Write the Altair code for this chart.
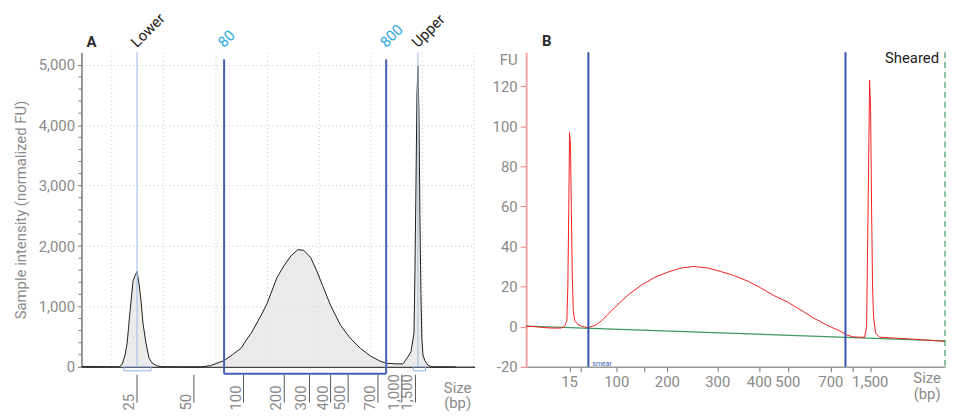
import altair as alt
import pandas as pd

# ---------------- Panel A (electropherogram, x = mobility units) ----------------
a_mob = [0, 20, 38, 41, 44, 46, 49, 52, 54, 56, 58, 60, 62, 65, 68, 71, 76, 81, 100, 121,
         130, 143.7, 152, 161, 166, 171, 181, 187, 197, 204, 211, 218, 224, 231, 237, 243,
         251, 261, 271, 281, 291, 301, 307, 316, 324, 329, 332, 335, 336, 337, 338, 339,
         340, 341, 342, 343, 344, 346, 349, 353, 377]
a_int = [5, 3, 0, 40, 200, 390, 930, 1426, 1508, 1580, 1377, 1098, 720, 393, 148, 66, 16, 2, 0, 0,
         20, 103, 200, 310, 443, 557, 852, 1049, 1480, 1672, 1836, 1940, 1930, 1808, 1590, 1344,
         1016, 689, 470, 306, 180, 93, 60, 50, 50, 170, 250, 557, 1600, 3000, 4500, 4980,
         4200, 2500, 1200, 450, 200, 100, 30, 0, 0]

a_size_labels = ["25", "50", "100", "200", "300", "400", "500", "700", "1,000", "1,500"]
a_size_pos = [56, 113.3, 163.3, 204.3, 229.7, 251, 268.7, 298.7, 322.7, 336.5]

a_marker_names = ["Lower", "Upper"]
a_marker_pos = [56, 339]
a_marker_lo = [42.7, 334.3]
a_marker_hi = [70, 346.7]

a_region_labels = ["80", "800"]
a_region_pos = [143.7, 307]

a_grid_pos = [30.3, 82.4, 134.5, 186.6, 238.7, 290.8, 342.9, 395]
a_y_ticks = [0, 1000, 2000, 3000, 4000, 5000]
a_y_minor = [v for v in range(200, 5001, 200) if v % 1000 != 0]

# ---------------- Panel B ----------------
b_mob = [0, 10, 20, 30, 36, 39, 41, 42, 43, 43.7, 44.7, 45.5, 46.5, 47.5, 49, 52, 56, 60, 64,
         70, 76, 82, 89, 96, 103, 116, 129, 143, 156, 169, 183, 196, 209, 223, 236, 249, 263,
         276, 289, 303, 316, 323, 329, 336, 341, 343, 344, 345, 346, 347, 348, 349, 350, 352,
         356, 370, 390, 410, 422]
b_fu = [0.3, 0.0, -0.5, -0.7, -0.6, 0.5, 3, 20, 60, 97, 90, 60, 25, 8, 3, 1.2, 0.3, -0.3, -0.2,
        0.8, 3, 6, 9.5, 12.8, 16, 20.7, 24.5, 27.3, 29.3, 30.1, 29.3, 27.6, 25.6, 22.8, 19.5, 15.7, 12.4,
        8.6, 4.5, 0.8, -2.1, -4.1, -5.0, -5.2, -5.2, 0, 40, 80, 123, 110, 60, 20, 5, -3,
        -5.2, -5.6, -6.2, -6.9, -7.3]

b_baseline_mob = [0, 422]
b_baseline_fu = [0.3, -7.0]

b_size_labels = ["15", "100", "200", "300", "400", "500", "700", "1,500"]
b_size_pos = [43.7, 91.3, 142.3, 193, 235, 263.7, 307, 346.7]
b_minor_pos = [54.7, 118.7, 328.7]
b_region_pos = [62.7, 321.7]
b_y_ticks = [-20, 0, 20, 40, 60, 80, 100, 120]

GREY = "#8a8a8a"
H = 317
WA, WB = 396, 422


def note(text, x, y, **kw):
    """A fixed annotation text (layout only, no data scale)."""
    return alt.Chart(pd.DataFrame({"t": [text]})).mark_text(**kw).encode(
        x=alt.value(x), y=alt.value(y), text="t:N")


# ================= Panel A =================
xa = alt.Scale(domain=[0, WA], nice=False, zero=False)
ya = alt.Scale(domain=[0, 5210], nice=False, zero=True)
ax_a_x = alt.Axis(values=a_grid_pos, labels=False, ticks=False, grid=True, gridDash=[1, 3],
                  gridColor="#c4c4c4", domainColor="#444", domainWidth=1.5, title=None)
ax_a_y = alt.Axis(values=a_y_ticks,
                  labelExpr="datum.value == 0 ? '0' : floor(datum.value / 1000) + ',000'",
                  grid=True, gridDash=[1, 3], gridColor="#c4c4c4",
                  labelFontSize=15, labelColor=GREY, labelPadding=3, tickSize=4, tickColor="#777",
                  domainColor="#777", domainWidth=1.5,
                  title="Sample intensity (normalized FU)", titleFontSize=15, titleColor=GREY,
                  titleFontWeight="normal", titleX=-61, titleBaseline="middle")


def XA(f):
    return alt.X(f, scale=xa, axis=ax_a_x)


def YA(f):
    return alt.Y(f, scale=ya, axis=ax_a_y)


dfa = pd.DataFrame({"mob": a_mob, "inten": a_int})
trace_a = alt.Chart(dfa).mark_area(
    color="#e2e2e2", line={"color": "#1e1e1e", "strokeWidth": 1}
).encode(x=XA("mob:Q"), y=YA("inten:Q"))

minor_a = alt.Chart(pd.DataFrame({"v": a_y_minor})).mark_rule(color="#777", strokeWidth=1).encode(
    y=YA("v:Q"), x=alt.value(-3), x2=alt.value(0))

dfm = pd.DataFrame({"name": a_marker_names, "pos": a_marker_pos,
                    "lo": a_marker_lo, "hi": a_marker_hi})
marker_lines = alt.Chart(dfm).mark_rule(color="#a9c1e8", strokeWidth=1.2).encode(
    x=XA("pos:Q"), y=alt.value(0), y2=alt.value(H))
marker_boxes = alt.Chart(dfm).mark_rect(fill="transparent", stroke="#8fb2e3", strokeWidth=1).encode(
    x=XA("lo:Q"), x2="hi:Q", y=alt.value(H), y2=alt.value(H + 4))
marker_text = alt.Chart(dfm).mark_text(
    angle=315, align="left", baseline="alphabetic", fontSize=15, color="#222"
).encode(x=XA("pos:Q"), y=alt.value(-4), text="name:N")

dfr = pd.DataFrame({"lab": a_region_labels, "pos": a_region_pos})
region_lines = alt.Chart(dfr).mark_rule(color="#4561b3", strokeWidth=2).encode(
    x=XA("pos:Q"), y=alt.value(7), y2=alt.value(324))
dfr2 = pd.DataFrame({"lo": [a_region_pos[0]], "hi": [a_region_pos[1]]})
region_bottom = alt.Chart(dfr2).mark_rule(color="#4561b3", strokeWidth=2).encode(
    x=XA("lo:Q"), x2="hi:Q", y=alt.value(324))
region_text = alt.Chart(dfr).mark_text(
    angle=315, align="left", baseline="alphabetic", fontSize=15, color="#2aa8e0"
).encode(x=XA("pos:Q"), y=alt.value(-4), text="lab:N")

dfs = pd.DataFrame({"lab": a_size_labels, "pos": a_size_pos})
size_ticks = alt.Chart(dfs).mark_rule(color="#555", strokeWidth=1).encode(
    x=XA("pos:Q"), y=alt.value(325), y2=alt.value(353))
size_text = alt.Chart(dfs).mark_text(
    angle=270, align="left", baseline="bottom", fontSize=15, color=GREY
).encode(x=XA("pos:Q"), y=alt.value(361), text="lab:N")

txt = dict(align="center", baseline="middle", fontSize=15, color=GREY)
size_a1 = note("Size", 379, 338, **txt)
size_a2 = note("(bp)", 379, 353, **txt)
label_a = note("A", 5, -5, align="left", baseline="alphabetic", fontSize=15,
               fontWeight="bold", color="#2a2a2a")

panel_a = alt.layer(
    trace_a, minor_a, marker_lines, marker_boxes, region_lines, region_bottom,
    marker_text, region_text, size_ticks, size_text, size_a1, size_a2, label_a
).properties(width=WA, height=H)

# ================= Panel B =================
xb = alt.Scale(domain=[0, WB], nice=False, zero=False)
yb = alt.Scale(domain=[-20, 137], nice=False, zero=False)
ax_b_x = alt.Axis(values=sorted(b_size_pos + b_minor_pos), labels=False, tickSize=5,
                  tickColor="#777", domainColor="#999", domainWidth=1.5, grid=False, title=None)
ax_b_y = alt.Axis(values=b_y_ticks,
                  labelExpr="datum.value < 0 ? '-' + abs(datum.value) : '' + datum.value",
                  labelFontSize=15, labelColor=GREY, labelPadding=3, tickSize=6, tickColor="#f07a7a",
                  domainColor="#f6a3a3", domainWidth=2, grid=False,
                  title="FU", titleAngle=0, titleAlign="right", titleBaseline="middle",
                  titleX=-9, titleY=7, titleFontSize=15, titleColor=GREY, titleFontWeight="normal")


def XB(f):
    return alt.X(f, scale=xb, axis=ax_b_x)


def YB(f):
    return alt.Y(f, scale=yb, axis=ax_b_y)


dfb = pd.DataFrame({"mob": b_mob, "fu": b_fu})
trace_b = alt.Chart(dfb).mark_line(color="#f21f1f", strokeWidth=1).encode(
    x=XB("mob:Q"), y=YB("fu:Q"))

dfbl = pd.DataFrame({"mob": b_baseline_mob, "fu": b_baseline_fu})
baseline_b = alt.Chart(dfbl).mark_line(color="#3d9a5f", strokeWidth=1.2).encode(
    x=XB("mob:Q"), y=YB("fu:Q"))

dfbr = pd.DataFrame({"pos": b_region_pos})
region_b = alt.Chart(dfbr).mark_rule(color="#3553a8", strokeWidth=2).encode(
    x=XB("pos:Q"), y=alt.value(0), y2=alt.value(H))

smear_b = alt.Chart(pd.DataFrame({"pos": [b_region_pos[0]], "t": ["smear"]})).mark_text(
    align="left", baseline="middle", fontSize=7, color="#3b5cc0", dx=4
).encode(x=XB("pos:Q"), y=alt.value(314), text="t:N")

edge_b = alt.Chart(pd.DataFrame({"e": [1]})).mark_rule(
    color="#3d9a5f", strokeWidth=1.2, strokeDash=[6, 4]
).encode(x=alt.value(WB), y=alt.value(0), y2=alt.value(H))

dfbs = pd.DataFrame({"lab": b_size_labels, "pos": b_size_pos})
size_text_b = alt.Chart(dfbs).mark_text(
    align="center", baseline="middle", fontSize=15, color=GREY
).encode(x=XB("pos:Q"), y=alt.value(332), text="lab:N")

size_b1 = note("Size", 404, 328, **txt)
size_b2 = note("(bp)", 404, 344, **txt)
sheared_b = note("Sheared", 416, 6, align="right", baseline="middle", fontSize=15, color="#222")
label_b = note("B", 16, -6, align="left", baseline="alphabetic", fontSize=15,
               fontWeight="bold", color="#2a2a2a")

panel_b = alt.layer(
    baseline_b, trace_b, region_b, smear_b, edge_b, size_text_b, size_b1, size_b2,
    sheared_b, label_b
).properties(width=WB, height=H)

chart = alt.hconcat(panel_a, panel_b, spacing=17).properties(
    padding={"left": 6, "top": 1, "right": 0, "bottom": 0}
).configure(font="Roboto").configure_view(strokeWidth=0)

chart.save("out.html", embed_options={"renderer": "svg", "actions": False})
